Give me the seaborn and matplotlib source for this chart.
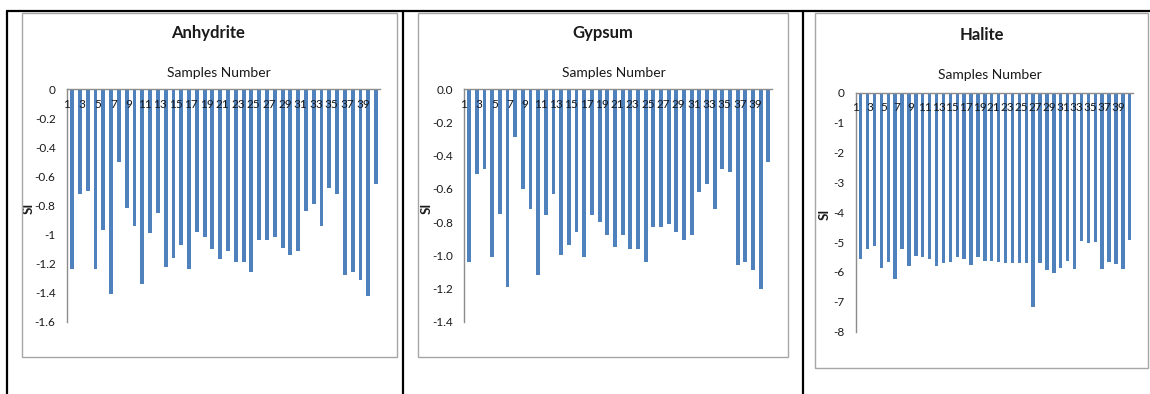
import numpy as np
import pandas as pd
import matplotlib
matplotlib.use("Agg")
import matplotlib.pyplot as plt
import matplotlib.ticker as mticker
from matplotlib.lines import Line2D
from matplotlib.patches import Rectangle
import seaborn as sns

# ─── data ─────────────────────────────────────────────────────────────────────
samples = list(range(1, 41))

anhydrite = [-1.24, -0.72, -0.70, -1.24, -0.97, -1.41, -0.50, -0.82, -0.94, -1.34,
             -0.99, -0.85, -1.22, -1.16, -1.07, -1.24, -0.98, -1.02, -1.10, -1.17,
             -1.11, -1.19, -1.19, -1.26, -1.04, -1.04, -1.02, -1.09, -1.14, -1.11,
             -0.84, -0.79, -0.94, -0.68, -0.72, -1.28, -1.26, -1.31, -1.42, -0.65]

gypsum = [-1.04, -0.51, -0.48, -1.01, -0.75, -1.19, -0.29, -0.60, -0.72, -1.12,
          -0.76, -0.63, -1.00, -0.94, -0.86, -1.01, -0.76, -0.80, -0.88, -0.95,
          -0.88, -0.96, -0.96, -1.04, -0.83, -0.83, -0.81, -0.86, -0.91, -0.88,
          -0.62, -0.57, -0.72, -0.48, -0.50, -1.06, -1.04, -1.09, -1.20, -0.44]

halite = [-5.57, -5.24, -5.13, -5.88, -5.67, -6.24, -5.24, -5.80, -5.45, -5.50,
          -5.57, -5.80, -5.71, -5.67, -5.51, -5.57, -5.77, -5.50, -5.63, -5.63,
          -5.67, -5.71, -5.71, -5.71, -5.71, -7.16, -5.71, -5.95, -6.05, -5.88,
          -5.64, -5.91, -4.97, -5.02, -4.99, -5.91, -5.67, -5.74, -5.91, -4.93]

W, H = 1150, 394
BAR_COLOR = "#4F81BD"
AXIS_GRAY = "#8C8C8C"
TEXT = "#1a1a1a"

sns.set_theme(style="white")
plt.rcParams["font.family"] = ["Lato", "DejaVu Sans"]
plt.rcParams["axes.unicode_minus"] = False


def fx(px):
    return px / W


def fy(py):
    return 1 - py / H


def fmt_general(v, pos):
    v = round(v, 2)
    return "0" if v == 0 else f"{v:g}"


def fmt_one(v, pos):
    v = round(v, 2)
    return "0.0" if v == 0 else f"{v:.1f}"


def panel(fig, name, values, box, axbox, ymin, step, formatter, title_xy, xlab_xy, si_x):
    # chart area frame (Excel style)
    x0, y0, x1, y1 = box
    fig.add_artist(Rectangle((fx(x0), fy(y1)), fx(x1) - fx(x0), fy(y0) - fy(y1),
                             transform=fig.transFigure, fill=False,
                             edgecolor="#A6A6A6", linewidth=1))

    left, top, right, bottom = axbox
    ax = fig.add_axes([fx(left), fy(bottom), (right - left) / W, (bottom - top) / H])
    ax.patch.set_alpha(0)

    df = pd.DataFrame({"sample": samples, "SI": values})
    sns.barplot(data=df, x="sample", y="SI", order=samples, color=BAR_COLOR,
                saturation=1, width=0.5, errorbar=None, linewidth=0, ax=ax)

    ax.set_xlim(-0.5, len(samples) - 0.5)
    ax.set_ylim(ymin, 0)

    # category labels sit just under the zero line, a little left of each bar
    ax.set_xticks([i - 0.7 for i in range(0, len(samples), 2)],
                  labels=[str(s) for s in samples[::2]])
    ax.set_yticks(np.arange(ymin, 0.0001, step))
    ax.yaxis.set_major_formatter(mticker.FuncFormatter(formatter))
    ax.tick_params(axis="x", length=0, pad=7, labelsize=8.5, labelcolor=TEXT)
    ax.tick_params(axis="y", length=0, pad=8, labelsize=8.5, labelcolor=TEXT)
    ax.xaxis.set_zorder(3)

    ax.spines["bottom"].set_position(("data", 0))
    for s in ("top", "right"):
        ax.spines[s].set_visible(False)
    for s in ("bottom", "left"):
        ax.spines[s].set_color(AXIS_GRAY)
        ax.spines[s].set_linewidth(1)

    ax.set_xlabel("")
    ax.set_ylabel("SI", fontsize=9.5, fontweight="bold", color=TEXT)
    ax.yaxis.label.set_va("center")
    ax.yaxis.set_label_coords((si_x - left) / (right - left), 0.49)

    fig.text(fx(title_xy[0]), fy(title_xy[1]), name, ha="center", va="center",
             fontsize=12, fontweight="bold", color=TEXT)
    fig.text(fx(xlab_xy[0]), fy(xlab_xy[1]), "Samples Number", ha="center", va="center",
             fontsize=10, color=TEXT)
    return ax


def main():
    fig = plt.figure(figsize=(W / 100, H / 100), dpi=100)
    fig.patch.set_facecolor("white")

    # surrounding table lines
    for xs, ys in [((7, 1150), (11, 11)), ((7, 7), (11, 394)),
                   ((403, 403), (11, 394)), ((803, 803), (11, 394))]:
        fig.add_artist(Line2D([fx(xs[0]), fx(xs[1])], [fy(ys[0]), fy(ys[1])],
                              transform=fig.transFigure, color="black", linewidth=1.6))

    panel(fig, "Anhydrite", anhydrite,
          box=(22, 13, 397, 357), axbox=(66.7, 89.3, 380, 321.7),
          ymin=-1.6, step=0.2, formatter=fmt_general,
          title_xy=(208.5, 33), xlab_xy=(218.7, 72.7), si_x=29)
    panel(fig, "Gypsum", gypsum,
          box=(418, 13, 788, 357), axbox=(463.8, 89.3, 772.2, 321.7),
          ymin=-1.4, step=0.2, formatter=fmt_one,
          title_xy=(603, 33), xlab_xy=(613.7, 72.7), si_x=426.7)
    panel(fig, "Halite", halite,
          box=(815, 13, 1148, 368), axbox=(855.8, 92.7, 1133.2, 331.7),
          ymin=-8, step=1, formatter=fmt_general,
          title_xy=(981.7, 35), xlab_xy=(990.3, 75), si_x=825)

    fig.savefig("out.png", dpi=100)
    plt.close(fig)


if __name__ == "__main__":
    main()
